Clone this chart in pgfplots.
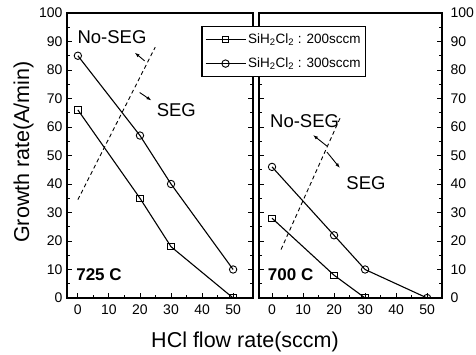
\documentclass[border=0pt]{standalone}
\usepackage{fontspec}
\setmainfont{Liberation Sans}
\usepackage{pgfplots}
\pgfplotsset{compat=1.18}
\usetikzlibrary{arrows.meta}
\tikzset{
  lbl/.style={font=\fontsize{18.5}{20}\selectfont},
  tlbl/.style={font=\fontsize{17}{18}\selectfont\bfseries},
}
\pgfplotsset{
  panel/.style={
    scale only axis, height=285pt, anchor=south west,
    ymin=0, ymax=100, ytick={0,10,...,100}, xtick={0,10,...,50},
    minor x tick num=1, minor y tick num=1,
    tick align=inside, xtick pos=bottom,
    axis line style={line width=1.3pt},
    major tick length=5pt, minor tick length=3pt,
    every tick/.style={line width=0.9pt, black},
    /pgf/number format/assume math mode=true,
    tick label style={font=\fontsize{14}{15}\selectfont},
    xticklabel style={yshift=-3pt},
    clip marker paths=true,
  },
  sq/.style={black, line width=1.1pt, mark=square, mark size=3.2pt, mark options={solid, fill=white, line width=0.9pt}},
  ci/.style={black, line width=1.1pt, mark=o, mark size=3.7pt, mark options={solid, fill=white, line width=0.9pt}},
  dsh/.style={black, line width=0.9pt, dash pattern=on 4pt off 3pt, mark=none},
  arr/.style={black, line width=0.9pt, mark=none, -{Latex[length=5pt,width=3.5pt]}},
}
\begin{document}
\begin{tikzpicture}
\useasboundingbox (0pt,0pt) rectangle (476pt,-355pt);
% left panel: 725 C
\begin{axis}[panel, at={(67pt,-298pt)}, width=186pt, xmin=-3.5, xmax=56.4,
  yticklabel style={xshift=-1pt}]
\addplot[sq] coordinates {(0,66) (20,35) (30,18) (50,0)};
\addplot[ci] coordinates {(0,85) (20,57) (30,40) (50,10)};
\addplot[dsh] coordinates {(0,34.5) (24.9,88)};
\addplot[arr] coordinates {(21.5,83.2) (18.3,86.1)};
\addplot[arr] coordinates {(19.9,72.1) (23.7,69.3)};
\node[lbl] at (axis cs:11,91.6) {No-SEG};
\node[lbl] at (axis cs:31.7,66) {SEG};
\node[tlbl] at (axis cs:6.8,8.1) {725 C};
\end{axis}
% right panel: 700 C
\begin{axis}[panel, at={(259pt,-298pt)}, width=183pt, xmin=-4.2, xmax=54.8,
  yticklabel pos=right, yticklabel style={xshift=5pt},
  legend style={at={(-0.3115,0.952)}, anchor=north west, draw=black, line width=1.1pt,
    fill=white, font=\fontsize{13.5}{14}\selectfont, inner xsep=3pt, inner ysep=5pt,
    outer sep=0pt, row sep=9pt, cells={anchor=west}},
  legend image code/.code={\draw[mark repeat=2,mark phase=2,#1] plot coordinates {(0pt,0pt) (20pt,0pt) (40pt,0pt)};}]
\addplot[sq] coordinates {(0,28) (20,8) (30,0)};
\addlegendentry{SiH\textsubscript{2}Cl\textsubscript{2} : 200sccm}
\addplot[ci] coordinates {(0,46) (20,22) (30,10) (50,0)};
\addlegendentry{SiH\textsubscript{2}Cl\textsubscript{2} : 300sccm}
\addplot[dsh, forget plot] coordinates {(2.9,17) (22.3,64)};
\addplot[arr, forget plot] coordinates {(17.7,53.3) (13.2,57.2)};
\addplot[arr, forget plot] coordinates {(17.7,51.2) (21.9,45.6)};
\node[lbl] at (axis cs:10.5,61.9) {No-SEG};
\node[lbl] at (axis cs:30.3,40.2) {SEG};
\node[tlbl] at (axis cs:6,8.1) {700 C};
\end{axis}
\node[anchor=base, font=\fontsize{21.5}{24}\selectfont] at (245pt,-347pt) {HCl flow rate(sccm)};
\node[anchor=base, rotate=90, font=\fontsize{21.5}{24}\selectfont] at (29pt,-152pt) {Growth rate(A/min)};
\end{tikzpicture}
\end{document}
